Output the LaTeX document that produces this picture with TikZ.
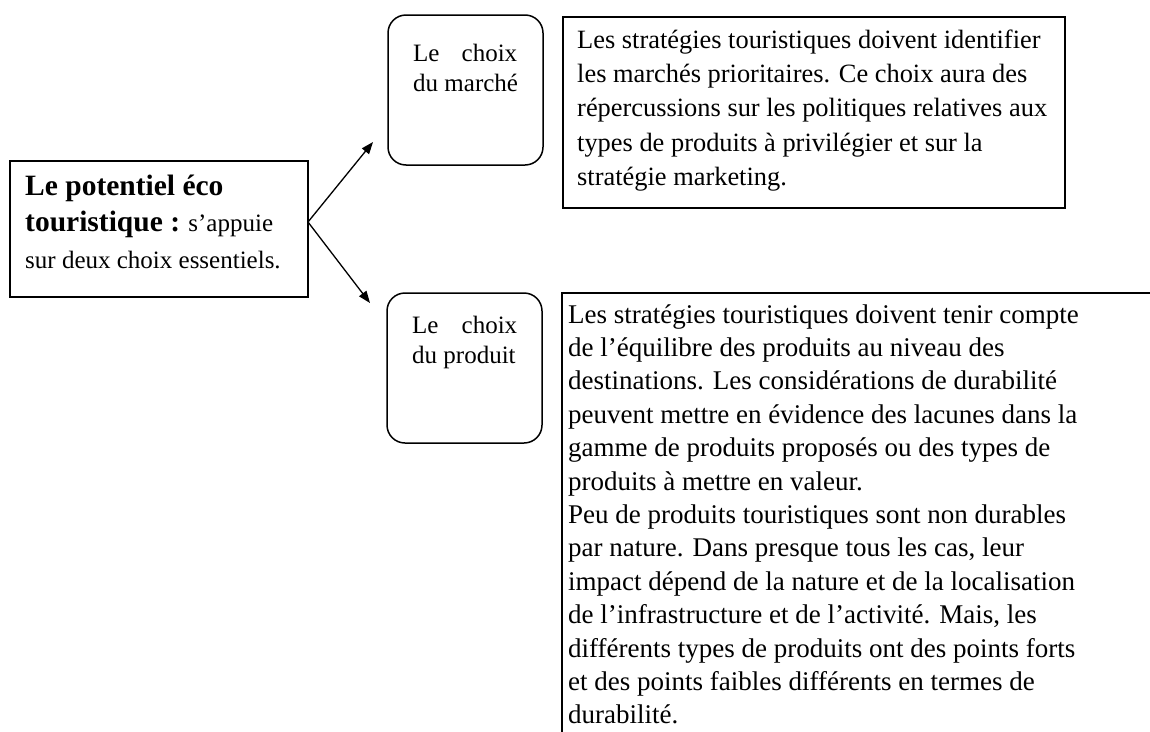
\documentclass[tikz,border=0pt]{standalone}
\usepackage{fontspec}
\setmainfont{Liberation Serif}
\usetikzlibrary{arrows.meta}
\newcommand\tlines[1]{\vtop{\halign{##\hfil\cr#1\crcr}}}
\begin{document}
\begin{tikzpicture}[x=1pt,y=-1pt,
  sqbox/.style={draw, rectangle, line width=1.5pt, inner sep=0pt},
  rdbox/.style={draw, rectangle, rounded corners=18pt, line width=1.5pt, inner sep=0pt},
  txt/.style={inner sep=0pt, anchor=base west, text=black},
  conn/.style={line width=1.3pt, -{Triangle[length=12pt,width=9pt]}}]
\useasboundingbox (0,0) rectangle (1150,731);
\clip (0,0) rectangle (1150,731);
\fill[white] (0,0) rectangle (1150,731);

% boxes
\node[sqbox, minimum width=298pt, minimum height=136pt] (pot) at (159,229) {};
\node[rdbox, minimum width=155pt, minimum height=150pt] (marche) at (465.5,90) {};
\node[rdbox, minimum width=155pt, minimum height=150pt] (produit) at (464.5,368) {};
\node[sqbox, minimum width=502pt, minimum height=191pt] (descA) at (814,112.5) {};
\node[sqbox, minimum width=598pt, minimum height=467pt] (descB) at (861,526.5) {};

% texts
\node[txt, font=\fontsize{25}{36.5}\selectfont] (potT) at (25,195) {\tlines{%
{\bfseries\fontsize{29.5}{36.5}\selectfont Le potentiel éco}\cr
{\bfseries\fontsize{29.5}{36.5}\selectfont touristique :} s’appuie\cr
sur deux choix essentiels.}};

\node[txt, font=\fontsize{25}{30}\selectfont] (marcheT) at (413,61) {\tlines{%
\makebox[104pt][s]{Le\hfill choix}\cr
du marché}};

\node[txt, font=\fontsize{25}{30}\selectfont] (produitT) at (412,333) {\tlines{%
\makebox[105pt][s]{Le\hfill choix}\cr
du produit}};

\node[txt, font=\fontsize{26.4}{34.4}\selectfont] (descAT) at (577,48) {\tlines{%
Les stratégies touristiques doivent identifier\cr
les marchés prioritaires. Ce choix aura des\cr
répercussions sur les politiques relatives aux\cr
types de produits à privilégier et sur la\cr
stratégie marketing.}};

\node[txt, font=\fontsize{27}{33.4}\selectfont] (descBT) at (568,323) {\tlines{%
Les stratégies touristiques doivent tenir compte\cr
de l’équilibre des produits au niveau des\cr
destinations. Les considérations de durabilité\cr
peuvent mettre en évidence des lacunes dans la\cr
gamme de produits proposés ou des types de\cr
produits à mettre en valeur.\cr
Peu de produits touristiques sont non durables\cr
par nature. Dans presque tous les cas, leur\cr
impact dépend de la nature et de la localisation\cr
de l’infrastructure et de l’activité. Mais, les\cr
différents types de produits ont des points forts\cr
et des points faibles différents en termes de\cr
durabilité.}};

% connectors
\coordinate (split) at (308,222);
\coordinate (endA) at (373,142);
\coordinate (endB) at (370,303);
\draw[conn] (split) -- (endA);
\draw[conn] (split) -- (endB);
\end{tikzpicture}
\end{document}
